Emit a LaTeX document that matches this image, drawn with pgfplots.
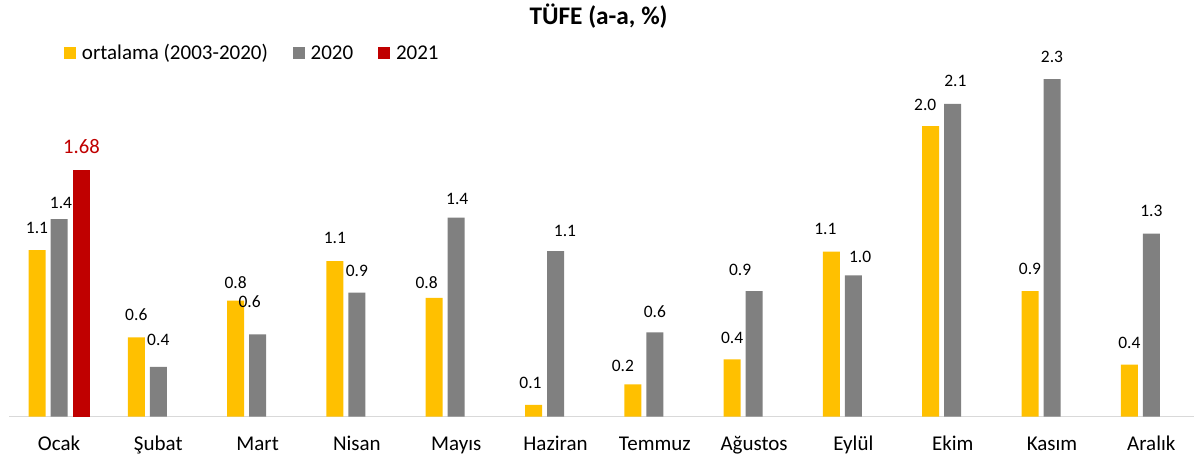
\documentclass[border=0pt]{standalone}
\usepackage{pgfplots}
\pgfplotsset{compat=1.18}
\usepackage{pgfplotstable}
\usepackage{fontspec}
\setmainfont{Carlito}
\definecolor{cy}{HTML}{FFC000}
\definecolor{cg}{HTML}{808080}
\definecolor{cr}{HTML}{C00000}
\definecolor{axc}{HTML}{D9D9D9}

% label: #1 = horizontal offset (px), #2 = gap above bar (px), #3 = text
\protected\def\lb#1#2#3{\raisebox{#2\dimexpr0.75pt\relax}[0pt][0pt]{\makebox[0pt]{\hspace*{#1\dimexpr1.5pt\relax}#3}}}

\pgfplotstableread{
x y lab
0 1.135 \lb{0}{17}{1.1}
1 0.54 \lb{0}{16.6}{0.6}
2 0.79 \lb{0}{12}{0.8}
3 1.06 \lb{0}{17.4}{1.1}
4 0.81 \lb{-7.6}{9}{0.8}
5 0.08 \lb{-3}{16}{0.1}
6 0.22 \lb{-10}{13}{0.2}
7 0.39 \lb{0}{16}{0.4}
8 1.124 \lb{-6}{16.7}{1.1}
9 1.98 \lb{-5.5}{16}{2.0}
10 0.856 \lb{0}{17}{0.9}
11 0.354 \lb{0}{16.7}{0.4}
}\ortdata

\pgfplotstableread{
x y lab
0 1.345 \lb{2}{11}{1.4}
1 0.34 \lb{0}{21.7}{0.4}
2 0.56 \lb{-8}{26.7}{0.6}
3 0.845 \lb{0}{16}{0.9}
4 1.356 \lb{1}{13}{1.4}
5 1.127 \lb{9.5}{15}{1.1}
6 0.575 \lb{0}{15}{0.6}
7 0.856 \lb{-14}{16}{0.9}
8 0.963 \lb{6.7}{13}{1.0}
9 2.13 \lb{2.7}{17.7}{2.1}
10 2.30 \lb{0}{16.4}{2.3}
11 1.247 \lb{0}{16.7}{1.3}
}\yearA

\pgfplotstableread{
x y lab
0 1.68 \lb{0}{16.7}{1.68}
}\yearB

\pgfplotsset{
  lbl/.style={
    nodes near coords,
    point meta=explicit symbolic,
    nodes near coords style={inner sep=0pt, outer sep=0pt, anchor=center,
      font=\fontsize{13.1}{15}\selectfont, xshift=#1},
  },
  lbl/.default=0pt
}

\begin{document}
\begin{tikzpicture}
\useasboundingbox (0,0) rectangle (895.5pt,345.75pt);
\begin{axis}[
  at={(7.0125pt,33.225pt)}, anchor=south west,
  scale only axis, width=888.49pt, height=286.28pt,
  xmin=-0.5, xmax=11.43, ymin=0, ymax=2.6,
  axis x line=bottom, axis y line=none,
  x axis line style={draw=axc, line width=1.1pt, -},
  xtick={0,...,11},
  xticklabels={Ocak,Şubat,Mart,Nisan,Mayıs,Haziran,Temmuz,Ağustos,Eylül,Ekim,Kasım,Aralık},
  major tick length=0pt,
  xticklabel style={font=\fontsize{15.75}{18}\selectfont, anchor=base, yshift=-25.7pt},
  ytick=\empty,
  clip=false,
  legend columns=3,
  legend style={draw=none, fill=none, at={(0.0461,0.952)}, anchor=west,
    font=\fontsize{15.75}{18}\selectfont, inner sep=0pt, column sep=4.3pt,
    /tikz/every even column/.append style={column sep=18.75pt},
    nodes={inner sep=0pt}},
  legend image code/.code={\fill[#1] (0pt,-4.5pt) rectangle (9pt,4.5pt);},
]
\addplot[ybar, fill=cy, draw=none, bar width=12.75pt, bar shift=-16.5pt, lbl=-16.5pt]
  table[x=x, y=y, meta=lab] {\ortdata};
\addlegendentry{ortalama (2003-2020)}
\addplot[ybar, fill=cg, draw=none, bar width=12.75pt, bar shift=0pt, lbl=0pt]
  table[x=x, y=y, meta=lab] {\yearA};
\addlegendentry{2020}
\addplot[ybar, fill=cr, draw=none, bar width=12.75pt, bar shift=16.9pt, lbl=16.9pt,
  nodes near coords style={text=cr, font=\fontsize{15.5}{18}\selectfont}]
  table[x=x, y=y, meta=lab] {\yearB};
\addlegendentry{2021}
\end{axis}
\node[anchor=base, font=\bfseries\fontsize{19}{22}\selectfont] at (448.9pt,327pt) {TÜFE (a-a, \%)};
\end{tikzpicture}
\end{document}
